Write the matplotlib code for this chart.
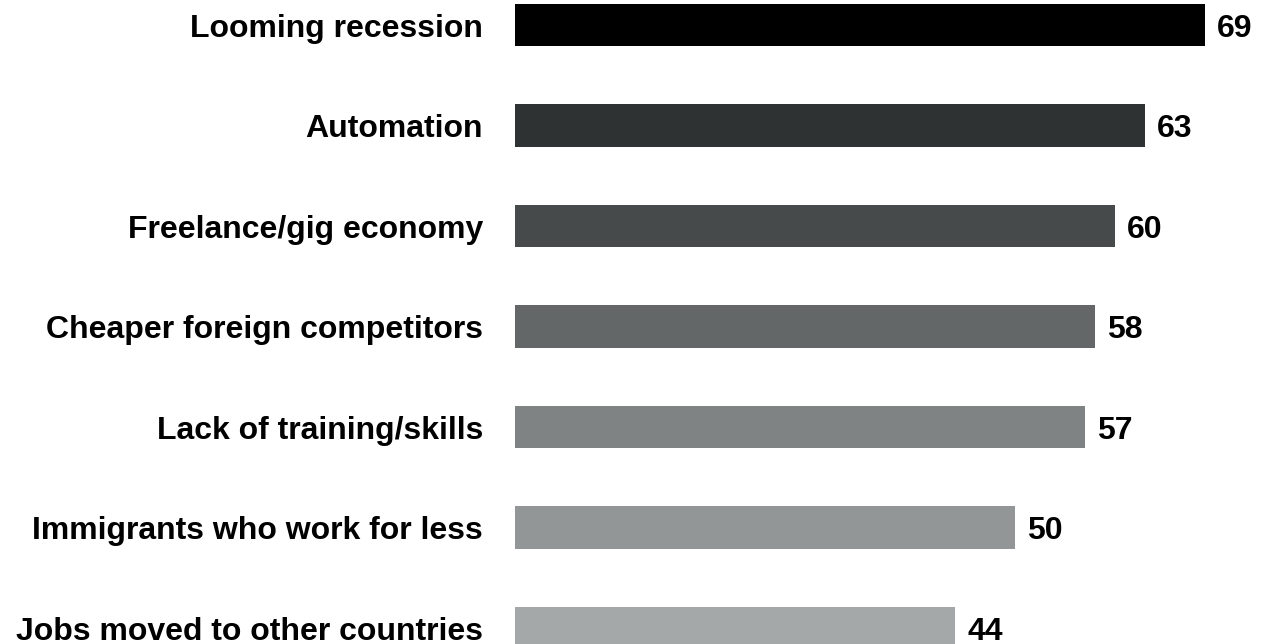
import matplotlib
matplotlib.use("Agg")
import matplotlib.pyplot as plt

categories = ["Looming recession", "Automation", "Freelance/gig economy",
              "Cheaper foreign competitors", "Lack of training/skills",
              "Immigrants who work for less", "Jobs moved to other countries"]
values = [69, 63, 60, 58, 57, 50, 44]
colors = ["#000000", "#2f3233", "#464a4a", "#636767", "#7f8383", "#939696", "#a5a8a8"]

plt.rcParams['font.family'] = ['Liberation Sans', 'DejaVu Sans']

fig = plt.figure(figsize=(12.86, 6.44), dpi=100)
ax = fig.add_axes([0, 0, 1, 1])
pos = list(range(len(categories)))
ax.barh(pos, values, height=0.42, color=colors)
for p, c, v in zip(pos, categories, values):
    ax.text(-3.2, p, c, ha="right", va="center_baseline", fontsize=23, fontweight="bold")
    ax.text(v + 1.2, p, str(v), ha="left", va="center_baseline", fontsize=23, fontweight="bold")
ax.set_xlim(-51.5, 77.1)
ax.set_ylim(6.159, -0.249)
ax.axis("off")
fig.savefig("out.png", dpi=100)
